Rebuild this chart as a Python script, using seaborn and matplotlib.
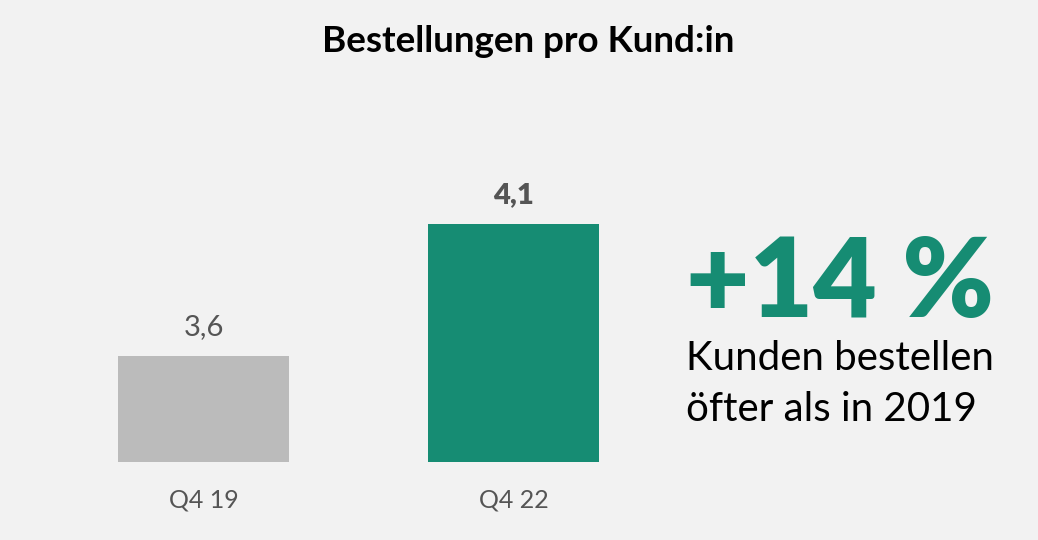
import matplotlib
matplotlib.use("Agg")
import matplotlib.pyplot as plt
import seaborn as sns
import pandas as pd

# ---- data ----
categories = ["Q4 19", "Q4 22"]
values = [3.6, 4.1]
value_labels = ["3,6", "4,1"]
title = "Bestellungen pro Kund:in"
highlight = "+14 %"
highlight_text = ["Kunden bestellen", "öfter als in 2019"]

# ---- style ----
BG = "#f2f2f2"
GREEN = "#168c73"
GREY = "#bbbbbb"
FONT = "Lato"

sns.set_theme(style="white")
plt.rcParams["font.family"] = [FONT, "DejaVu Sans"]

W, H, DPI = 1038, 540, 100
fig = plt.figure(figsize=(W / DPI, H / DPI), dpi=DPI, facecolor=BG)
base_px = 462
ax = fig.add_axes([0, (H - base_px) / H, 1, base_px / H])
ax.set_facecolor(BG)

df = pd.DataFrame({"cat": categories, "val": values})
sns.barplot(data=df, x="cat", y="val", hue="cat", palette=[GREY, GREEN],
            width=0.55, legend=False, ax=ax, saturation=1, linewidth=0)

# axis scaling: baseline value 3.2 at bottom, 310 px between bars
unit_px = 310
ax.set_xlim(-203.5 / unit_px, (W - 203.5) / unit_px)
px_per_val = 238 / 0.9
ax.set_ylim(3.2, 3.2 + base_px / px_per_val)

for s in ax.spines.values():
    s.set_visible(False)
ax.set_yticks([])
ax.set_xlabel("")
ax.set_ylabel("")
ax.tick_params(axis="x", length=0, pad=19, labelsize=18, labelcolor="#555555")

for i, (v, lab) in enumerate(zip(values, value_labels)):
    ax.annotate(lab, (i, v), xytext=(0, 21), textcoords="offset points",
                ha="center", va="center", fontsize=21, color="#555555",
                fontweight="heavy" if i == 1 else "normal")

fig.text(528 / W, 1 - 42 / H, title, ha="center", va="center",
         fontsize=26.5, fontweight="bold", color="black")

fig.text(686 / W, 1 - 317 / H, highlight, ha="left", va="baseline",
         fontsize=79, fontweight="heavy", color=GREEN)
fig.text(686 / W, 1 - 370 / H, highlight_text[0], ha="left", va="baseline",
         fontsize=29, color="black")
fig.text(686 / W, 1 - 421 / H, highlight_text[1], ha="left", va="baseline",
         fontsize=29, color="black")

fig.savefig("out.png", dpi=DPI, facecolor=BG)
